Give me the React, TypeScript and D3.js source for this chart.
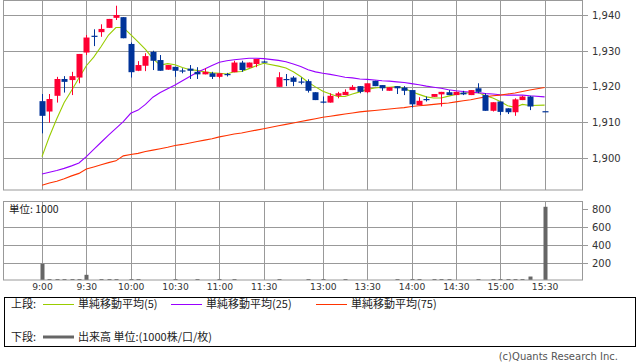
import React from 'react';
import * as d3 from 'd3';

// 5-minute slots: 0 = 9:00 ... 30 = 11:30, 31 = lunch gap, 32 = 12:30 ... 68 = 15:30
const tickSlots = [0, 6, 12, 18, 24, 30, 38, 44, 50, 56, 62, 68];
const tickLabels = ['9:00', '9:30', '10:00', '10:30', '11:00', '11:30', '13:00', '13:30', '14:00', '14:30', '15:00', '15:30'];
const priceTicks = [1900, 1910, 1920, 1930, 1940];
const volumeTicks = [200, 400, 600, 800];

const opens = [1915.9, 1913.0, 1917.4, 1922.1, 1921.8, 1922.5, 1929.5, 1934.2, 1935.2, 1936.4, 1939.2, 1939.4, 1931.9, 1924.4, 1925.8, 1929.7, 1927.4, 1924.7, 1925.5, 1924.5, 1925.0, 1924.1, 1923.4, 1923.7, 1922.7, 1923.5, 1924.0, 1926.7, 1925.3, 1926.3, 1927.0, null, 1919.9, 1922.1, 1922.5, 1921.4, 1921.5, 1918.4, 1915.8, 1915.5, 1917.4, 1917.6, 1919.0, 1920.1, 1918.4, 1921.6, 1920.4, 1918.8, 1920.1, 1919.7, 1919.0, 1914.8, 1916.5, 1917.1, 1917.8, 1918.4, 1917.6, 1918.3, 1917.6, 1919.5, 1917.6, 1913.2, 1915.8, 1913.9, 1912.8, 1916.2, 1917.2, null, 1913.1];
const highs = [1917.9, 1917.9, 1922.7, 1922.9, 1924.1, 1929.1, 1934.4, 1936.0, 1937.4, 1938.9, 1942.6, 1939.4, 1932.3, 1927.1, 1929.3, 1930.0, 1928.8, 1926.0, 1925.5, 1925.1, 1926.0, 1925.4, 1925.1, 1924.1, 1923.7, 1923.8, 1927.2, 1927.2, 1926.7, 1927.7, 1927.2, null, 1924.0, 1923.5, 1922.9, 1922.5, 1922.0, 1918.4, 1917.2, 1918.1, 1918.5, 1919.2, 1920.4, 1920.1, 1920.9, 1921.6, 1920.4, 1919.8, 1920.1, 1920.1, 1919.0, 1917.0, 1917.2, 1917.9, 1918.5, 1919.0, 1918.5, 1918.8, 1919.0, 1920.9, 1918.1, 1915.6, 1915.8, 1913.9, 1916.7, 1917.4, 1917.4, null, 1913.1];
const lows = [1906.9, 1909.9, 1915.5, 1918.3, 1917.6, 1920.9, 1928.8, 1931.3, 1933.9, 1936.4, 1938.6, 1933.5, 1922.5, 1924.3, 1924.3, 1924.6, 1924.4, 1924.7, 1922.7, 1923.7, 1922.1, 1922.1, 1923.4, 1922.1, 1922.3, 1922.8, 1924.0, 1924.1, 1925.3, 1925.4, 1926.7, null, 1919.9, 1920.1, 1920.1, 1920.6, 1918.3, 1916.2, 1915.3, 1915.5, 1916.7, 1917.6, 1919.0, 1918.1, 1918.1, 1920.1, 1918.8, 1918.8, 1917.9, 1917.6, 1914.1, 1914.8, 1915.8, 1917.1, 1914.4, 1917.6, 1917.6, 1917.6, 1917.6, 1918.1, 1913.2, 1913.0, 1912.0, 1912.3, 1911.8, 1916.2, 1913.4, null, 1913.1];
const closes = [1911.8, 1916.5, 1922.1, 1921.3, 1922.9, 1929.1, 1933.7, 1934.0, 1936.1, 1938.9, 1940.0, 1933.5, 1924.0, 1926.0, 1928.5, 1927.2, 1924.4, 1926.0, 1924.4, 1924.4, 1924.4, 1923.4, 1924.1, 1922.7, 1923.7, 1923.4, 1926.7, 1924.6, 1926.7, 1927.7, 1926.9, null, 1922.6, 1922.0, 1921.3, 1921.3, 1918.8, 1916.2, 1915.7, 1917.4, 1918.1, 1918.5, 1919.9, 1918.5, 1920.9, 1920.1, 1919.5, 1919.8, 1919.5, 1918.8, 1915.0, 1916.0, 1916.4, 1917.9, 1918.5, 1917.6, 1918.5, 1917.8, 1919.0, 1918.5, 1913.2, 1915.6, 1912.9, 1912.8, 1916.4, 1917.2, 1914.4, null, 1913.1];

const ma5 = [1900.4, 1906.0, 1911.0, 1915.5, 1918.9, 1922.4, 1925.8, 1928.2, 1931.2, 1934.4, 1936.5, 1936.5, 1934.5, 1932.5, 1930.4, 1927.8, 1926.0, 1926.4, 1926.1, 1925.3, 1924.7, 1924.5, 1924.1, 1923.8, 1923.7, 1923.5, 1924.1, 1924.2, 1925.0, 1925.8, 1926.5, null, 1925.7, 1925.2, 1924.1, 1922.8, 1921.2, 1919.9, 1918.7, 1917.9, 1917.2, 1917.2, 1917.9, 1918.5, 1919.2, 1919.6, 1919.8, 1919.8, 1920.0, 1919.5, 1918.5, 1917.8, 1917.1, 1916.8, 1916.8, 1917.3, 1917.8, 1918.1, 1918.3, 1918.3, 1917.4, 1916.8, 1915.8, 1914.6, 1914.2, 1915.0, 1914.7, null, 1914.8];
const ma25 = [1895.5, 1896.0, 1896.5, 1897.1, 1897.8, 1898.6, 1900.4, 1902.4, 1904.4, 1906.4, 1908.3, 1910.2, 1912.5, 1913.4, 1915.0, 1917.0, 1918.3, 1919.4, 1920.4, 1921.6, 1922.8, 1924.0, 1924.9, 1925.9, 1926.8, 1927.2, 1927.5, 1927.7, 1927.9, 1927.9, 1927.8, null, 1927.3, 1926.9, 1926.3, 1925.6, 1924.7, 1924.1, 1923.7, 1923.4, 1923.0, 1922.6, 1922.4, 1922.1, 1922.0, 1921.8, 1921.6, 1921.5, 1921.3, 1921.1, 1920.8, 1920.5, 1920.1, 1919.8, 1919.5, 1919.1, 1918.8, 1918.6, 1918.4, 1918.3, 1918.0, 1917.9, 1917.7, 1917.6, 1917.6, 1917.6, 1917.4, null, 1917.1];
const ma75 = [1892.4, 1893.0, 1893.5, 1894.2, 1895.0, 1895.7, 1896.9, 1897.5, 1898.1, 1898.7, 1899.2, 1900.6, 1901.0, 1901.3, 1901.8, 1902.2, 1902.6, 1903.0, 1903.5, 1903.8, 1904.2, 1904.6, 1905.0, 1905.4, 1905.9, 1906.3, 1906.7, 1907.0, 1907.4, 1907.8, 1908.2, null, 1909.0, 1909.4, 1909.8, 1910.2, 1910.6, 1911.0, 1911.4, 1911.7, 1912.0, 1912.3, 1912.6, 1912.9, 1913.1, 1913.3, 1913.5, 1913.7, 1913.9, 1914.1, 1914.4, 1914.6, 1914.8, 1915.0, 1915.2, 1915.4, 1915.7, 1916.0, 1916.3, 1916.7, 1917.1, 1917.4, 1917.6, 1917.9, 1918.2, 1918.6, 1919.0, null, 1919.7];

// volume in 1000 units
const volumes = [195, 11, 11, 22, 22, 11, 72, 1, 11, 11, 11, 1, 11, 11, 1, 1, 1, 1, 11, 1, 1, 11, 1, 1, 11, 1, 11, 1, 1, 1, 1, null, 22, 1, 1, 1, 11, 1, 11, 1, 1, 11, 1, 1, 1, 1, 1, 1, 11, 1, 11, 11, 1, 11, 11, 11, 1, 1, 1, 11, 1, 11, 11, 11, 22, 11, 53, null, 828];

const maSeries = [
  { name: '単純移動平均(5)', values: ma5, color: '#99cc00' },
  { name: '単純移動平均(25)', values: ma25, color: '#9900ff' },
  { name: '単純移動平均(75)', values: ma75, color: '#ff3300' },
];

const UP = '#ff0033';
const DOWN = '#003399';
const GRID = '#999999';
const NUM_FONT = '"DejaVu Sans", sans-serif';
const JP_FONT = '"Noto Sans CJK JP", sans-serif';

const W = 638;
const H = 362;
const LEFT = 3.5;
const RIGHT = 582.5;

export default function App() {
  const x = d3.scaleLinear().domain([0, 68]).range([42, 544.6]);
  const y = d3.scaleLinear().domain([1900, 1940]).range([158, 15]);
  const yv = d3.scaleLinear().domain([0, 800]).range([281.3, 209.3]);
  const fmt = d3.format(',');
  const px = (v: number) => Math.round(v) + 0.5;

  const candles = opens
    .map((o, i) => ({ i, o, h: highs[i], l: lows[i], c: closes[i] }))
    .filter(d => d.o != null);

  const lineGen = d3.line<{ i: number; v: number }>()
    .x(d => x(d.i))
    .y(d => y(d.v));

  const topPanel = { y0: 0.5, y1: 190 };
  const volPanel = { y0: 201.5, y1: 280 };

  return (
    <svg width={W} height={H} style={{ position: 'absolute', left: 0, top: 0, background: '#fff' }}>
      <defs>
        <clipPath id="top-clip">
          <rect x={LEFT} y={topPanel.y0} width={RIGHT - LEFT} height={topPanel.y1 - topPanel.y0} />
        </clipPath>
      </defs>

      {/* price panel grid */}
      {tickSlots.map(s => (
        <line key={'vg' + s} x1={px(x(s))} x2={px(x(s))} y1={topPanel.y0} y2={topPanel.y1} stroke={GRID} />
      ))}
      {priceTicks.map(p => (
        <g key={'pg' + p}>
          <line x1={LEFT} x2={588} y1={px(y(p))} y2={px(y(p))} stroke={GRID} />
          <text x={592} y={y(p) + 3.8} fontFamily={NUM_FONT} fontSize={10} fill="#333">{fmt(p)}</text>
        </g>
      ))}
      <rect x={LEFT} y={topPanel.y0} width={RIGHT - LEFT} height={topPanel.y1 - topPanel.y0} fill="none" stroke={GRID} />

      {/* moving averages */}
      <g clipPath="url(#top-clip)">
        {maSeries.map(s => {
          const pts = s.values
            .map((v, i) => ({ i, v }))
            .filter(d => d.v != null) as { i: number; v: number }[];
          return <path key={s.name} d={lineGen(pts) || ''} fill="none" stroke={s.color} strokeWidth={1.1} />;
        })}
      </g>

      {/* candlesticks */}
      <g>
        {candles.map(d => {
          const up = d.c > d.o;
          const color = up ? UP : DOWN;
          const cx = Math.round(x(d.i));
          const top = y(Math.max(d.o, d.c));
          const bot = y(Math.min(d.o, d.c));
          const bh = Math.max(bot - top, 1.2);
          return (
            <g key={'c' + d.i}>
              <line x1={cx + 0.5} x2={cx + 0.5} y1={y(d.h)} y2={y(d.l)} stroke={color} />
              <rect x={cx - 2.5} y={top} width={6} height={bh} fill={color} />
            </g>
          );
        })}
      </g>

      {/* volume panel */}
      {tickSlots.map(s => (
        <line key={'vv' + s} x1={px(x(s))} x2={px(x(s))} y1={volPanel.y0} y2={volPanel.y1} stroke={GRID} />
      ))}
      {volumeTicks.map(v => (
        <g key={'vt' + v}>
          {v < 800 && <line x1={LEFT} x2={RIGHT} y1={px(yv(v))} y2={px(yv(v))} stroke={GRID} />}
          <line x1={RIGHT} x2={588} y1={px(yv(v))} y2={px(yv(v))} stroke={GRID} />
          <text x={592} y={yv(v) + 3.8} fontFamily={NUM_FONT} fontSize={10} fill="#333">{v}</text>
        </g>
      ))}
      {volumes.map((v, i) => {
        if (v == null) return null;
        const top = yv(v);
        const h = Math.max(volPanel.y1 - top, v >= 5 ? 1 : 0);
        return <rect key={'vb' + i} x={Math.round(x(i)) - 1.5} y={volPanel.y1 - h} width={4} height={h} fill="#666" />;
      })}
      <rect x={LEFT} y={volPanel.y0} width={RIGHT - LEFT} height={volPanel.y1 - volPanel.y0} fill="none" stroke={GRID} />
      <text x={9} y={213} fontFamily={JP_FONT} fontSize={10.5} fill="#222">単位: 1000</text>

      {/* time axis */}
      {tickSlots.map((s, k) => (
        <text key={'tl' + s} x={x(s) + 0.5} y={289.5} textAnchor="middle" fontFamily={NUM_FONT} fontSize={9.2} fill="#333">
          {tickLabels[k]}
        </text>
      ))}

      {/* legend */}
      <rect x={4.5} y={297.5} width={631} height={49} fill="#fff" stroke="#000" />
      <text x={11} y={308} fontFamily={JP_FONT} fontSize={11} fill="#222">上段:</text>
      {maSeries.map((s, k) => {
        const lx = [43, 171, 316][k];
        return (
          <g key={'lg' + k}>
            <line x1={lx} x2={lx + 31} y1={304.5} y2={304.5} stroke={s.color} />
            <text x={lx + 35} y={308} fontFamily={JP_FONT} fontSize={11} fill="#222">{s.name}</text>
          </g>
        );
      })}
      <text x={11} y={341} fontFamily={JP_FONT} fontSize={11} fill="#222">下段:</text>
      <line x1={43} x2={74} y1={337} y2={337} stroke="#666" strokeWidth={3} />
      <text x={78} y={341} fontFamily={JP_FONT} fontSize={11} fill="#222">出来高 単位:(1000株/口/枚)</text>

      <text x={618} y={360} textAnchor="end" fontFamily={'"DejaVu Sans", sans-serif'} fontSize={10} fill="#555">
        (c)Quants Research Inc.
      </text>
    </svg>
  );
}
